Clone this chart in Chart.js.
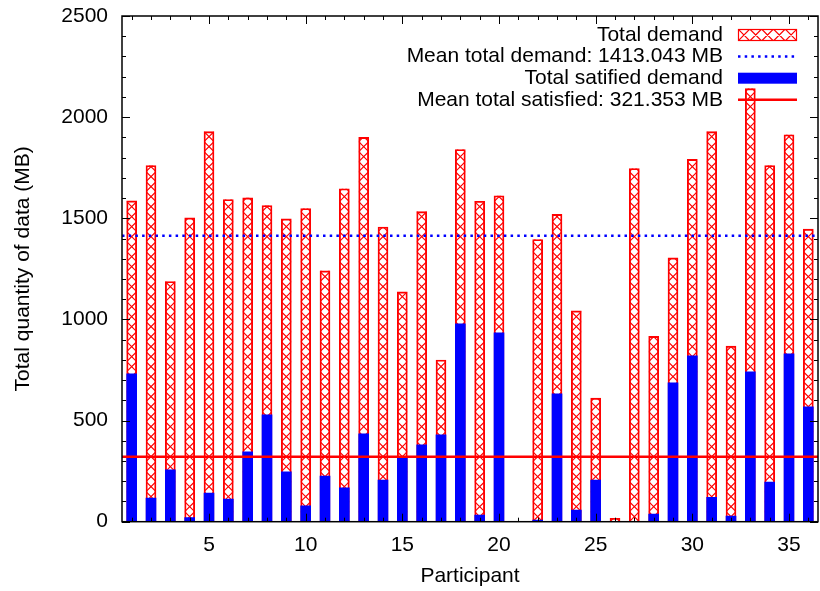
<!DOCTYPE html>
<html>
<head>
<meta charset="utf-8">
<script src="https://cdn.jsdelivr.net/npm/chart.js@4.4.0/dist/chart.umd.min.js"></script>
<style>
html, body { margin: 0; padding: 0; background: #fff; }
#wrap { width: 820px; height: 591px; }
</style>
</head>
<body>
<div id="wrap"><canvas id="demandChart"></canvas></div>
<script>
const participants = [1, 2, 3, 4, 5, 6, 7, 8, 9, 10, 11, 12, 13, 14, 15, 16, 17, 18,
    19, 20, 21, 22, 23, 24, 25, 26, 27, 28, 29, 30, 31, 32, 33, 34, 35, 36];
const totalDemand = [1586, 1761, 1187, 1502, 1928, 1593, 1601, 1563, 1497, 1548, 1240, 1646,
    1900, 1457, 1136, 1533, 799, 1840, 1584, 1611, 0, 1395, 1519, 1042,
    611, 17, 1746, 916, 1304, 1791, 1928, 868, 2141, 1761, 1913, 1446];
const satisfiedDemand = [731, 117, 256, 20, 142, 112, 345, 528, 246, 78, 226, 167,
    434, 206, 318, 380, 429, 978, 33, 934, 0, 8, 632, 58,
    206, 0, 2, 38, 687, 820, 121, 28, 741, 196, 830, 568];
const meanDemand = 1413.043;
const meanSatisfied = 321.353;

const RED = '#ff0000';
const BLUE = '#0000ff';
const FONT = "'Liberation Sans', Arial, sans-serif";

Chart.defaults.color = '#000';
Chart.defaults.font.family = FONT;
Chart.defaults.font.size = 21;

// X cross hatch, one cross per cell, cells stacked up from the bottom
function hatchRect(ctx, x0, top, w, h, cellW, cellH) {
    ctx.save();
    ctx.beginPath();
    ctx.rect(x0, top, w, h);
    ctx.clip();
    ctx.beginPath();
    const bottom = top + h;
    for (let cx = x0; cx < x0 + w - 0.1; cx += cellW) {
        for (let cy = bottom; cy > top - 0.1; cy -= cellH) {
            ctx.moveTo(cx, cy); ctx.lineTo(cx + cellW, cy - cellH);
            ctx.moveTo(cx + cellW, cy); ctx.lineTo(cx, cy - cellH);
        }
    }
    ctx.stroke();
    ctx.restore();
}

const gnuplotLook = {
    id: 'gnuplotLook',
    afterDatasetDraw(chart, args) {
        if (args.index !== 0) return;
        const ctx = chart.ctx;
        ctx.save();
        ctx.strokeStyle = RED;
        ctx.lineWidth = 1.2;
        args.meta.data.forEach(bar => {
            const p = bar.getProps(['x', 'y', 'base', 'width'], true);
            const h = p.base - p.y;
            if (h < 1) return;
            hatchRect(ctx, p.x - p.width / 2, p.y, p.width, h, p.width, p.width);
        });
        ctx.restore();
    },
    afterDatasetsDraw(chart) {
        const { ctx, chartArea: a, scales: { x, y } } = chart;
        ctx.save();

        // mean lines
        ctx.lineWidth = 2.5;
        ctx.strokeStyle = BLUE;
        ctx.setLineDash([2.5, 4.2]);
        let py = y.getPixelForValue(meanDemand);
        ctx.beginPath(); ctx.moveTo(a.left, py); ctx.lineTo(a.right, py); ctx.stroke();
        ctx.setLineDash([]);
        ctx.strokeStyle = RED;
        py = y.getPixelForValue(meanSatisfied);
        ctx.beginPath(); ctx.moveTo(a.left, py); ctx.lineTo(a.right, py); ctx.stroke();

        // inward ticks on all four sides
        ctx.strokeStyle = '#000';
        ctx.lineWidth = 1;
        ctx.beginPath();
        for (let v = 0; v <= 2500; v += 100) {
            const len = v % 500 === 0 ? 8 : 4;
            const ty = Math.round(y.getPixelForValue(v)) + 0.5;
            ctx.moveTo(a.left, ty); ctx.lineTo(a.left + len, ty);
            ctx.moveTo(a.right, ty); ctx.lineTo(a.right - len, ty);
        }
        participants.forEach((p, i) => {
            const len = p % 5 === 0 ? 8 : 4;
            const tx = Math.round(x.getPixelForValue(i)) + 0.5;
            ctx.moveTo(tx, a.bottom); ctx.lineTo(tx, a.bottom - len);
            ctx.moveTo(tx, a.top); ctx.lineTo(tx, a.top + len);
        });
        ctx.stroke();

        // frame
        ctx.lineWidth = 1.5;
        ctx.strokeRect(a.left, a.top, a.right - a.left, a.bottom - a.top);

        // key, gnuplot style: right aligned text, sample on the right
        const keys = [
            chart.data.datasets[0].label,
            'Mean total demand: ' + meanDemand.toFixed(3) + ' MB',
            chart.data.datasets[1].label,
            'Mean total satisfied: ' + meanSatisfied.toFixed(3) + ' MB'
        ];
        const textRight = a.right - 95;
        const s0 = a.right - 80, s1 = a.right - 21;
        ctx.font = '21px ' + FONT;
        ctx.fillStyle = '#000';
        ctx.textAlign = 'right';
        ctx.textBaseline = 'middle';
        keys.forEach((k, i) => {
            const cy = a.top + 19 + i * 21.6;
            ctx.fillText(k, textRight, cy);
            if (i === 0) {
                ctx.strokeStyle = RED;
                ctx.lineWidth = 1.2;
                hatchRect(ctx, s0, cy - 6, s1 - s0, 12, (s1 - s0) / 5, 12);
                ctx.strokeRect(s0 + 0.5, cy - 5.5, s1 - s0 - 1, 11);
            } else if (i === 1) {
                ctx.strokeStyle = BLUE;
                ctx.lineWidth = 2.5;
                ctx.setLineDash([2.5, 4.2]);
                ctx.beginPath(); ctx.moveTo(s0, cy); ctx.lineTo(s1, cy); ctx.stroke();
                ctx.setLineDash([]);
            } else if (i === 2) {
                ctx.fillStyle = BLUE;
                ctx.fillRect(s0, cy - 5.5, s1 - s0, 11);
                ctx.fillStyle = '#000';
            } else {
                ctx.strokeStyle = RED;
                ctx.lineWidth = 2.5;
                ctx.beginPath(); ctx.moveTo(s0, cy); ctx.lineTo(s1, cy); ctx.stroke();
            }
        });
        ctx.restore();
    }
};

const ctx = document.getElementById('demandChart').getContext('2d');
const demandChart = new Chart(ctx, {
    type: 'bar',
    data: {
        labels: participants,
        datasets: [{
            label: 'Total demand',
            data: totalDemand,
            backgroundColor: 'rgba(255,255,255,0)',
            borderColor: RED,
            borderWidth: 1.2,
            barThickness: 10,
            grouped: false,
            order: 2
        }, {
            label: 'Total satified demand',
            data: satisfiedDemand,
            backgroundColor: BLUE,
            borderWidth: 0,
            barThickness: 10,
            grouped: false,
            order: 1
        }]
    },
    options: {
        responsive: true,
        maintainAspectRatio: false,
        animation: false,
        layout: { padding: { top: 16, right: 2, left: 0, bottom: 0 } },
        plugins: {
            legend: { display: false },
            tooltip: { enabled: false }
        },
        scales: {
            x: {
                grid: { display: false, drawTicks: false },
                border: { display: false },
                ticks: {
                    autoSkip: false,
                    maxRotation: 0,
                    padding: 11,
                    callback: function(val, idx) {
                        const p = participants[idx];
                        return p % 5 === 0 ? String(p) : '';
                    }
                },
                title: { display: true, text: 'Participant', padding: { top: 0, bottom: 2 } },
                afterFit: s => {
                    s.height = 69.3;
                    s.paddingLeft = 0;
                    s.paddingRight = 0;
                }
            },
            y: {
                min: 0,
                max: 2500,
                grid: { display: false, drawTicks: false },
                border: { display: false },
                ticks: {
                    stepSize: 500,
                    padding: 14,
                    callback: v => String(v)
                },
                title: { display: true, text: 'Total quantity of data (MB)', padding: { top: 11, bottom: 0 } },
                afterFit: s => {
                    s.width = 122;
                    s.paddingTop = 0;
                    s.paddingBottom = 0;
                }
            }
        }
    },
    plugins: [gnuplotLook]
});
</script>
</body>
</html>
